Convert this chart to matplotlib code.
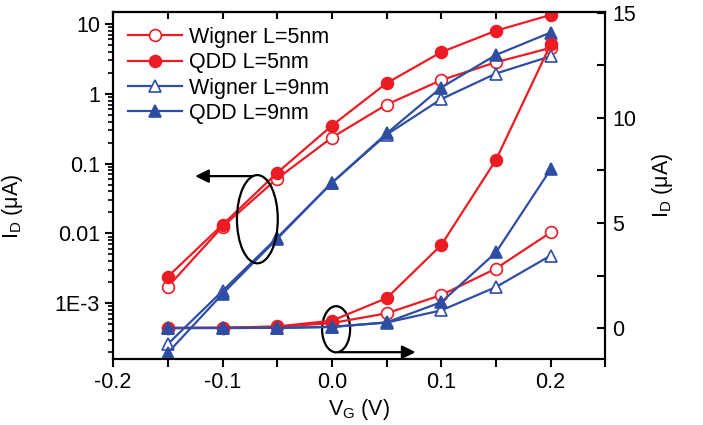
import numpy as np
import matplotlib.pyplot as plt
from matplotlib.patches import Ellipse
from matplotlib.ticker import MultipleLocator, LogLocator, NullFormatter

plt.rcParams['font.family'] = ['Liberation Sans', 'DejaVu Sans']
plt.rcParams['mathtext.fontset'] = 'custom'
plt.rcParams['mathtext.rm'] = 'Liberation Sans'

# gate voltage (V) and drain current (uA)
vg = [-0.15, -0.10, -0.05, 0.00, 0.05, 0.10, 0.15, 0.20]
wigner_5nm = [1.72e-3, 0.0125, 0.061, 0.236, 0.70, 1.57, 2.83, 4.55]
qdd_5nm = [2.4e-3, 0.0133, 0.074, 0.35, 1.42, 3.95, 8.0, 13.5]
wigner_9nm = [2.6e-4, 1.5e-3, 8.7e-3, 0.053, 0.26, 0.84, 1.95, 3.45]
qdd_9nm = [1.95e-4, 1.36e-3, 8.4e-3, 0.053, 0.27, 1.23, 3.6, 7.55]

log_ticks = [1e-3, 0.01, 0.1, 1, 10]
log_labels = ['1E-3', '0.01', '0.1', '1', '10']

red = '#ed1c24'
blue = '#2e4ea3'
series = [
    (wigner_5nm, red, 'o', 'white', 'Wigner L=5nm'),
    (qdd_5nm, red, 'o', red, 'QDD L=5nm'),
    (wigner_9nm, blue, '^', 'white', 'Wigner L=9nm'),
    (qdd_9nm, blue, '^', blue, 'QDD L=9nm'),
]

fs = 15.5

fig = plt.figure(figsize=(7.03, 4.25), dpi=100)
ax = fig.add_subplot(111)
fig.subplots_adjust(left=0.161, right=0.861, top=0.972, bottom=0.155)
ax2 = ax.twinx()

for y, c, m, fc, lab in series:
    ax.plot(vg, y, color=c, marker=m, mfc=fc, mec=c, ms=8.5, lw=1.6, mew=1.2, label=lab)
    ax2.plot(vg, y, color=c, marker=m, mfc=fc, mec=c, ms=8.5, lw=1.6, mew=1.2)

ax.set_yscale('log')
ax.set_xlim(-0.2, 0.25)
ax.set_ylim(1.58e-4, 14.9)
ax2.set_ylim(-1.48, 15.05)

ax.set_yticks(log_ticks)
ax.set_yticklabels(log_labels)
ax.yaxis.set_minor_locator(LogLocator(base=10, subs=np.arange(2, 10)))
ax.yaxis.set_minor_formatter(NullFormatter())
ax.xaxis.set_major_locator(MultipleLocator(0.1))
ax.xaxis.set_minor_locator(MultipleLocator(0.05))
ax.xaxis.set_major_formatter(plt.FuncFormatter(lambda v, p: '%.1f' % v))

ax2.yaxis.set_major_locator(MultipleLocator(5))
ax2.yaxis.set_minor_locator(MultipleLocator(2.5))

ax.tick_params(axis='both', which='major', direction='out', length=6, width=1.5, labelsize=fs)
ax.tick_params(axis='both', which='minor', direction='out', length=3.5, width=1.2)
ax.tick_params(axis='x', which='minor', length=6, width=1.5)
ax2.tick_params(axis='y', which='major', direction='in', length=6, width=1.5, labelsize=fs, pad=5)
ax2.tick_params(axis='y', which='minor', direction='in', length=6, width=1.5)

top = ax.secondary_xaxis('top')
top.xaxis.set_major_locator(MultipleLocator(0.05))
top.tick_params(axis='x', direction='in', length=5, width=1.5, labeltop=False)
top.spines['top'].set_linewidth(1.5)

for a in (ax, ax2):
    for s in a.spines.values():
        s.set_linewidth(1.5)

ax.set_xlabel('V$_\\mathregular{G}$ (V)', fontsize=fs, labelpad=3)
ax.set_ylabel('I$_\\mathregular{D}$ (\u03bcA)', fontsize=fs)
ax2.set_ylabel('I$_\\mathregular{D}$ (\u03bcA)', fontsize=fs, labelpad=10)
ax.yaxis.set_label_coords(-0.18, 0.44)

leg = ax.legend(loc='upper left', frameon=False, fontsize=fs, handlelength=2.5,
                labelspacing=0.2, handletextpad=0.3, borderaxespad=0.3)

# ellipse + arrow annotations
ax.add_patch(Ellipse((0.293, 0.403), 0.083, 0.254, transform=ax.transAxes,
                     fill=False, ec='black', lw=1.6, zorder=5))
ax.annotate('', xy=(0.161, 0.527), xytext=(0.289, 0.527), xycoords='axes fraction',
            arrowprops=dict(arrowstyle='-|>', color='black', lw=1.6, mutation_scale=20))
ax.add_patch(Ellipse((0.453, 0.086), 0.057, 0.133, transform=ax.transAxes,
                     fill=False, ec='black', lw=1.6, zorder=5))
ax.annotate('', xy=(0.62, 0.020), xytext=(0.453, 0.020), xycoords='axes fraction',
            arrowprops=dict(arrowstyle='-|>', color='black', lw=1.6, mutation_scale=20))

fig.savefig('out.png', dpi=100)
